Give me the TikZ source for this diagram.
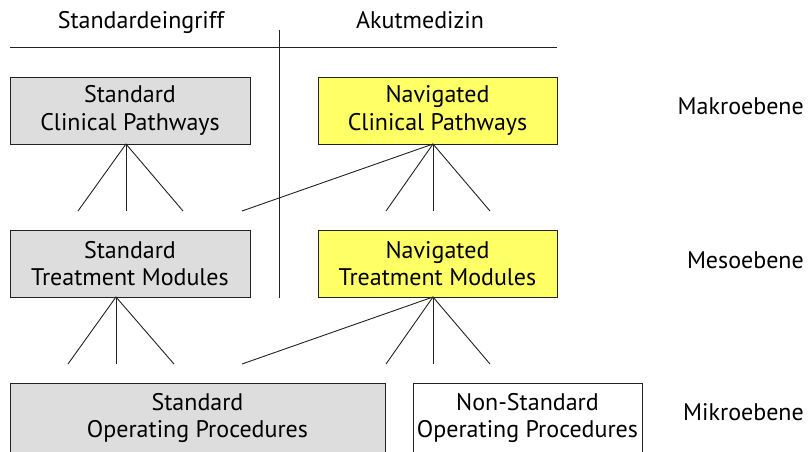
\documentclass[tikz,border=0pt]{standalone}
\usepackage{fontspec}
\setmainfont{PT Sans}
\definecolor{boxgray}{HTML}{DDDDDD}
\definecolor{boxyellow}{HTML}{FFFF66}
\definecolor{linecol}{HTML}{222222}
\begin{document}
\begin{tikzpicture}[x=1pt,y=-1pt,
  lbl/.style={font=\fontsize{24}{28}\selectfont, inner sep=0pt},
  box/.style={draw=linecol, line width=1pt, align=center, inner sep=0pt,
    font=\fontsize{24}{27.5}\selectfont, minimum height=67pt},
  conn/.style={draw=linecol, line width=0.9pt}]
\useasboundingbox (0,0) rectangle (811,451);
% headers
\node[lbl, anchor=base] (h1) at (141,28) {Standardeingriff};
\node[lbl, anchor=base] (h2) at (420,28) {Akutmedizin};
\coordinate (hl) at (10,47);
\coordinate (hr) at (557,47);
\coordinate (vt) at (279,30);
\coordinate (vb) at (279,298);
\draw[conn] (hl) -- (hr);
\draw[conn] (vt) -- (vb);
% boxes
\node[box, fill=boxgray, minimum width=240pt] (b1) at (130,110.5) {Standard\\Clinical Pathways};
\node[box, fill=boxyellow, minimum width=239pt] (b2) at (437.5,110.5) {Navigated\\Clinical Pathways};
\node[box, fill=boxgray, minimum width=240pt] (b3) at (130,263.5) {Standard\\Treatment Modules};
\node[box, fill=boxyellow, minimum width=239pt] (b4) at (437.5,263.5) {Navigated\\Treatment Modules};
\node[box, fill=boxgray, minimum width=375pt, minimum height=70pt] (b5) at (197.5,418) {Standard\\Operating Procedures};
\node[box, fill=white, minimum width=229pt, minimum height=70pt] (b6) at (527.5,418) {Non-Standard\\Operating Procedures};
% level labels
\node[lbl, anchor=base east] (l1) at (804,114) {Makroebene};
\node[lbl, anchor=base east] (l2) at (804,268) {Mesoebene};
\node[lbl, anchor=base east] (l3) at (804,420) {Mikroebene};
% upper fans
\coordinate (a1) at (126,144);
\coordinate (a1l) at (78,211);
\coordinate (a1m) at (126,211);
\coordinate (a1r) at (183,211);
\draw[conn] (a1l) -- (a1) -- (a1r);
\draw[conn] (a1) -- (a1m);
\coordinate (a2) at (433,144);
\coordinate (a2x) at (242,211);
\coordinate (a2l) at (386,211);
\coordinate (a2m) at (433,211);
\coordinate (a2r) at (490,211);
\draw[conn] (a2x) -- (a2);
\draw[conn] (a2l) -- (a2) -- (a2r);
\draw[conn] (a2) -- (a2m);
% lower fans
\coordinate (a3) at (116,297);
\coordinate (a3l) at (68,364);
\coordinate (a3m) at (116,364);
\coordinate (a3r) at (174,364);
\draw[conn] (a3l) -- (a3) -- (a3r);
\draw[conn] (a3) -- (a3m);
\coordinate (a4) at (433,297);
\coordinate (a4x) at (242,364);
\coordinate (a4l) at (386,364);
\coordinate (a4m) at (433,364);
\coordinate (a4r) at (490,364);
\draw[conn] (a4x) -- (a4);
\draw[conn] (a4l) -- (a4) -- (a4r);
\draw[conn] (a4) -- (a4m);
\end{tikzpicture}
\end{document}
